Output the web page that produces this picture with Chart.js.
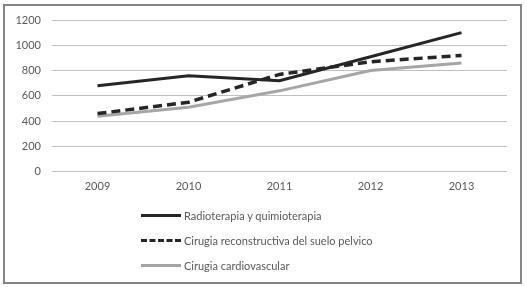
<!DOCTYPE html>
<html>
<head>
<meta charset="utf-8">
<script src="https://cdn.jsdelivr.net/npm/chart.js@4"></script>
<style>
  body { margin: 0; background: #fff; }
  #frame { position: absolute; left: 3px; top: 4px; width: 519px; height: 280px;
    border: 2px solid #858585; box-sizing: border-box; }
  #wrap { position: absolute; left: 0; top: 0; width: 527px; height: 205px; }
  #legend { position: absolute; left: 141px; top: 203px; font-family: Lato, sans-serif;
    font-size: 11px; color: #595959; }
  .row { height: 25px; display: flex; align-items: center; }
  .sample { width: 40px; margin-right: 3px; height: 0; }
</style>
</head>
<body>
<div id="frame"></div>
<div id="wrap"><canvas id="line_chart"></canvas></div>
<div id="legend"></div>
<script>
const years = ["2009", "2010", "2011", "2012", "2013"];
const radioterapia = [680, 760, 720, 910, 1100];
const cirugia_suelo = [460, 550, 770, 870, 920];
const cirugia_cardio = [440, 510, 640, 800, 860];
const series_names = [
  "Radioterapia y quimioterapia",
  "Cirugia reconstructiva del suelo pelvico",
  "Cirugia cardiovascular",
];

const line_ctx = document.getElementById("line_chart");

const line_data = {
  labels: years,
  datasets: [
    {
      label: series_names[0],
      data: radioterapia,
      borderColor: "#262626",
      borderWidth: 3,
    },
    {
      label: series_names[1],
      data: cirugia_suelo,
      borderColor: "#262626",
      borderWidth: 3.5,
      borderDash: [9, 5],
    },
    {
      label: series_names[2],
      data: cirugia_cardio,
      borderColor: "#a6a6a6",
      borderWidth: 3,
    },
  ],
};

const tick_font = { family: "Lato", size: 11 };

const line_chart = new Chart(line_ctx, {
  type: "line",
  data: line_data,
  options: {
    responsive: true,
    maintainAspectRatio: false,
    animation: false,
    elements: {
      point: { radius: 0 },
      line: { tension: 0 },
    },
    layout: {
      padding: { top: 20, right: 20, left: 0, bottom: 4 },
    },
    plugins: {
      legend: { display: false },
      tooltip: { enabled: false },
    },
    scales: {
      x: {
        offset: true,
        grid: { display: false, drawTicks: false },
        border: { display: false },
        ticks: { color: "#595959", font: tick_font, padding: 8 },
      },
      y: {
        min: 0,
        max: 1200,
        ticks: {
          stepSize: 200,
          color: "#595959",
          font: tick_font,
          padding: 11,
          callback: (v) => String(v),
        },
        grid: { color: "#c0c0c0", lineWidth: 1, drawTicks: false },
        border: { display: false },
        afterFit: (scale) => { scale.width = 52; },
      },
    },
  },
});

// legend as html rows
const legend_el = document.getElementById("legend");
line_data.datasets.forEach((ds) => {
  const row = document.createElement("div");
  row.className = "row";
  const sample = document.createElement("div");
  sample.className = "sample";
  sample.style.borderTop = ds.borderWidth + "px " + (ds.borderDash ? "dashed " : "solid ") + ds.borderColor;
  const txt = document.createElement("span");
  txt.textContent = ds.label;
  row.appendChild(sample);
  row.appendChild(txt);
  legend_el.appendChild(row);
});
</script>
</body>
</html>
